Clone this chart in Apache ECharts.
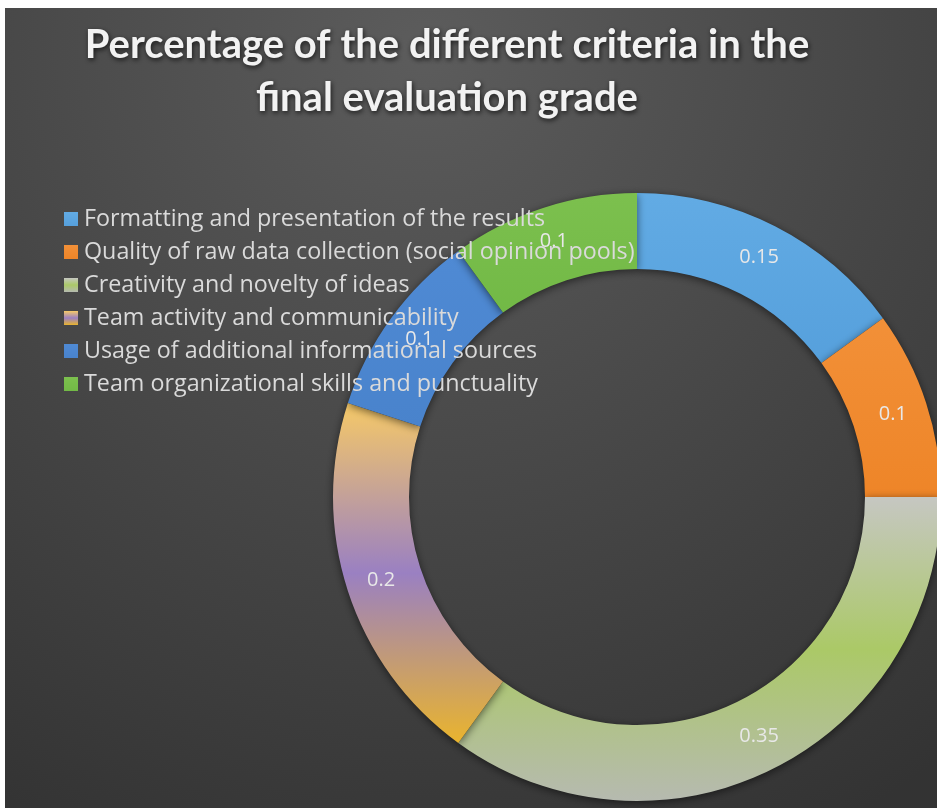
<!DOCTYPE html>
<html>
<head>
<meta charset="utf-8">
<script src="https://cdn.jsdelivr.net/npm/echarts@6/dist/echarts.min.js"></script>
<style>
  html, body { margin: 0; padding: 0; background: #ffffff; }
  #chart { position: absolute; left: 5px; top: 8px; width: 932px; height: 800px; }
</style>
</head>
<body>
<div id="chart"></div>
<script>
// Criteria and their weights in the final grade
const criteria = [
  'Formatting and presentation of the results',
  'Quality of raw data collection (social opinion pools)',
  'Creativity and novelty of ideas',
  'Team activity and communicability',
  'Usage of additional informational sources',
  'Team organizational skills and punctuality'
];
const weights = [0.15, 0.1, 0.35, 0.2, 0.1, 0.1];

const titleText = 'Percentage of the different criteria in the\nfinal evaluation grade';

function vgrad(stops) {
  return new echarts.graphic.LinearGradient(0, 0, 0, 1,
    stops.map(s => ({ offset: s[0], color: s[1] })));
}

const sliceColors = [
  vgrad([[0, '#62abe4'], [1, '#56a0dc']]),
  vgrad([[0, '#f29038'], [1, '#ee8528']]),
  vgrad([[0, '#c6c7c2'], [0.5, '#abc967'], [1, '#b6bab0']]),
  vgrad([[0, '#f6c967'], [0.5, '#9a80c2'], [1, '#e9b42e']]),
  vgrad([[0, '#4f8ad4'], [1, '#4983cc']]),
  vgrad([[0, '#7cc04e'], [1, '#72b946']])
];

const chart = echarts.init(document.getElementById('chart'), null, { renderer: 'canvas' });

chart.setOption({
  backgroundColor: new echarts.graphic.RadialGradient(0.45, 0.05, 1.1, [
    { offset: 0, color: '#5c5c5c' },
    { offset: 1, color: '#333333' }
  ]),
  animation: false,
  title: {
    text: titleText,
    left: 437,
    top: 6,
    textAlign: 'center',
    textStyle: {
      fontFamily: 'Lato',
      fontWeight: 'bold',
      fontSize: 40,
      lineHeight: 53,
      color: '#f2f2f2',
      textShadowColor: 'rgba(0,0,0,0.7)',
      textShadowBlur: 5,
      textShadowOffsetX: 1,
      textShadowOffsetY: 2
    }
  },
  legend: {
    orient: 'vertical',
    left: 59,
    top: 199,
    padding: 0,
    itemWidth: 14,
    itemHeight: 14,
    itemGap: 9,
    icon: 'rect',
    selectedMode: false,
    data: criteria,
    textStyle: {
      fontFamily: 'Open Sans',
      fontSize: 23.3,
      lineHeight: 24,
      color: '#dadada',
      padding: [0, 0, 0, 1]
    }
  },
  series: [{
    type: 'pie',
    center: [632, 489],
    radius: [228, 304],
    startAngle: 90,
    clockwise: true,
    avoidLabelOverlap: false,
    labelLine: { show: false },
    label: {
      show: true,
      position: 'inside',
      formatter: p => String(p.value),
      fontFamily: 'Open Sans',
      fontSize: 20,
      color: '#e8e8e8'
    },
    itemStyle: {
      borderWidth: 0,
      shadowColor: 'rgba(0,0,0,0.55)',
      shadowBlur: 8,
      shadowOffsetY: 2
    },
    emphasis: { disabled: true },
    data: criteria.map((name, i) => ({
      name: name,
      value: weights[i],
      itemStyle: { color: sliceColors[i] }
    }))
  }]
});
</script>
</body>
</html>
